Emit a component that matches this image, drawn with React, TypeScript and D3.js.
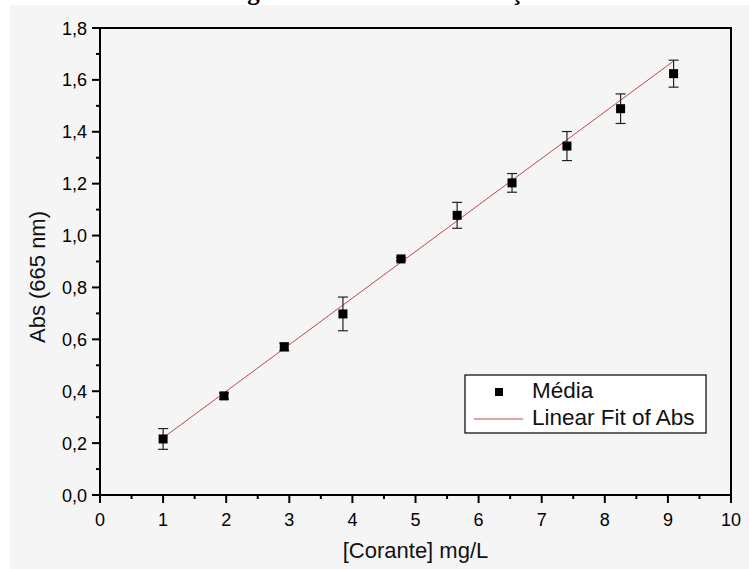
import React from "react";
import * as d3 from "d3";

const concentration = [1.0, 1.965, 2.92, 3.85, 4.77, 5.66, 6.53, 7.4, 8.25, 9.09];
const absMean = [0.216, 0.382, 0.571, 0.698, 0.91, 1.078, 1.203, 1.345, 1.489, 1.624];
const absErr = [0.04, 0.012, 0.015, 0.065, 0.006, 0.05, 0.036, 0.056, 0.057, 0.052];
const fitSlope = 0.1795;
const fitIntercept = 0.0409;
const xTicks = [0, 1, 2, 3, 4, 5, 6, 7, 8, 9, 10];
const yTicks = [0, 0.2, 0.4, 0.6, 0.8, 1.0, 1.2, 1.4, 1.6, 1.8];
const legendLabels = ["Média", "Linear Fit of Abs"];
const titleText = "Figura 1: Curva de calibração do corante";

const W = 749;
const H = 569;
const L = 100, R = 731, T = 28, B = 495;
const FONT = "'Liberation Sans', Arial, sans-serif";

export default function App() {
  const x = d3.scaleLinear().domain([0, 10]).range([L, R]);
  const y = d3.scaleLinear().domain([0, 1.8]).range([B, T]);
  const xMinor = d3.range(0.5, 10, 1);
  const yMinor = d3.range(0.1, 1.8, 0.2);
  const fmt = (v: number) => v.toFixed(1).replace(".", ",");
  const xMin = d3.min(concentration)!;
  const xMax = d3.max(concentration)!;
  const fitLine = d3.line<number>().x((v) => x(v)).y((v) => y(fitIntercept + fitSlope * v));
  const ms = 9;
  const cap = 5;

  return (
    <svg width={W} height={H} style={{ position: "absolute", left: 0, top: 0, background: "#fff" }}>
      <text x={225} y={0} fontFamily="'Liberation Serif', 'Times New Roman', serif" fontWeight="bold" fontSize={25} fill="#000">
        {titleText}
      </text>
      <rect x={10} y={5} width={W - 10} height={H - 5} fill="#f5f5f5" />

      {/* fit line */}
      <path d={fitLine([xMin, xMax]) || ""} stroke="#c04848" strokeWidth={1} fill="none" />

      {/* error bars & markers */}
      {concentration.map((c, i) => {
        const cx = x(c);
        const cy = y(absMean[i]);
        const yt = y(absMean[i] + absErr[i]);
        const yb = y(absMean[i] - absErr[i]);
        return (
          <g key={i}>
            <line x1={cx} x2={cx} y1={yt} y2={yb} stroke="#222" strokeWidth={1.2} />
            <line x1={cx - cap} x2={cx + cap} y1={yt} y2={yt} stroke="#222" strokeWidth={1.2} />
            <line x1={cx - cap} x2={cx + cap} y1={yb} y2={yb} stroke="#222" strokeWidth={1.2} />
            <rect x={cx - ms / 2} y={cy - ms / 2} width={ms} height={ms} fill="#000" />
          </g>
        );
      })}

      {/* frame */}
      <rect x={L} y={T} width={R - L} height={B - T} fill="none" stroke="#000" strokeWidth={2} />

      {/* x ticks */}
      {xTicks.map((t) => (
        <g key={"xt" + t}>
          <line x1={x(t)} x2={x(t)} y1={B} y2={B + 8} stroke="#000" strokeWidth={2} />
          <text x={x(t)} y={526} textAnchor="middle" fontFamily={FONT} fontSize={18} fill="#000">
            {t}
          </text>
        </g>
      ))}
      {xMinor.map((t) => (
        <line key={"xm" + t} x1={x(t)} x2={x(t)} y1={B} y2={B + 4} stroke="#000" strokeWidth={2} />
      ))}

      {/* y ticks */}
      {yTicks.map((t) => (
        <g key={"yt" + t}>
          <line x1={L - 8} x2={L} y1={y(t)} y2={y(t)} stroke="#000" strokeWidth={2} />
          <text x={87} y={y(t) + 6.5} textAnchor="end" fontFamily={FONT} fontSize={18} fill="#000">
            {fmt(t)}
          </text>
        </g>
      ))}
      {yMinor.map((t) => (
        <line key={"ym" + t} x1={L - 4} x2={L} y1={y(t)} y2={y(t)} stroke="#000" strokeWidth={2} />
      ))}

      {/* axis titles */}
      <text x={(L + R) / 2} y={558} textAnchor="middle" fontFamily={FONT} fontSize={22} fill="#111">
        [Corante] mg/L
      </text>
      <text
        transform={`translate(45, 277) rotate(-90)`}
        textAnchor="middle"
        fontFamily={FONT}
        fontSize={22}
        fill="#111"
      >
        Abs (665 nm)
      </text>

      {/* legend */}
      <rect x={465} y={375} width={241} height={58} fill="#fff" stroke="#000" strokeWidth={1.2} />
      <rect x={499 - 4} y={392 - 4} width={8} height={8} fill="#000" />
      <line x1={474} x2={523} y1={419} y2={419} stroke="#c04848" strokeWidth={1} />
      <text x={532} y={398} fontFamily={FONT} fontSize={22.5} fill="#111">
        {legendLabels[0]}
      </text>
      <text x={532} y={425} fontFamily={FONT} fontSize={22.5} fill="#111">
        {legendLabels[1]}
      </text>
    </svg>
  );
}
